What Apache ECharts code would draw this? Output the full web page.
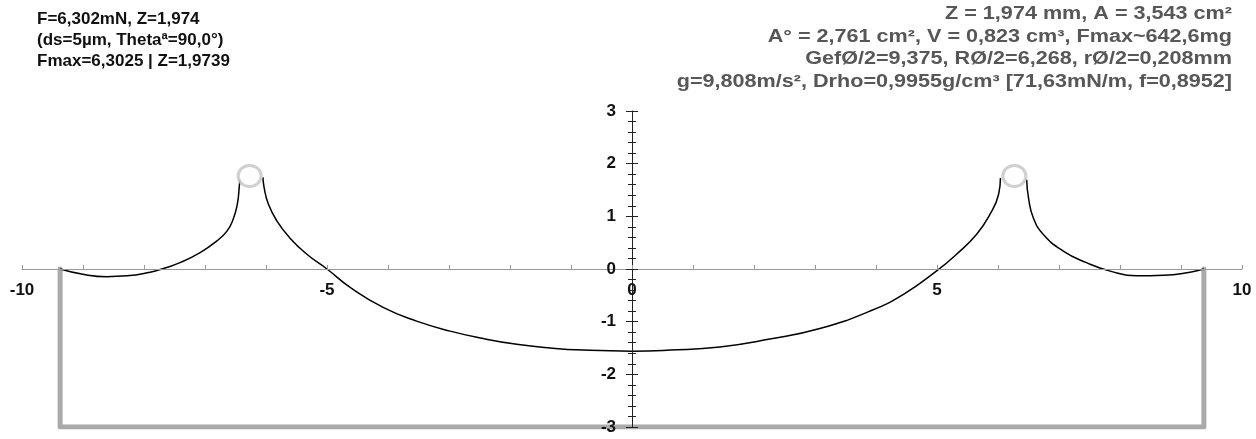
<!DOCTYPE html>
<html lang="de">

<head>
  <meta charset="UTF-8">
  <title>Meniskus</title>
  <style>
    html, body { margin: 0; padding: 0; background: #fff; }
  </style>
</head>

<body>
  <div id="main" style="width: 1256px;height:439px;"></div>

  <script src="https://cdn.jsdelivr.net/npm/echarts@6/dist/echarts.min.js"></script>

  <script type="text/javascript">
    // Meniskus-Profil, links aussen / innen / rechts aussen (x in mm, y in mm)
    const outerLeft = [[-9.375, 0], [-9.0, -0.10], [-8.61, -0.145], [-8.28, -0.13], [-7.9, -0.06], [-7.68, 0.01],
      [-7.41, 0.12], [-7.08, 0.31], [-6.81, 0.53], [-6.64, 0.72], [-6.54, 0.94], [-6.47, 1.23], [-6.44, 1.54], [-6.43, 1.70]];
    const inner = [[-6.05, 1.74], [-6.03, 1.54], [-5.96, 1.23], [-5.82, 0.91], [-5.61, 0.59], [-5.33, 0.28], [-5.0, 0.0],
      [-4.62, -0.35], [-4.08, -0.73], [-3.53, -0.99], [-2.98, -1.18], [-2.44, -1.32], [-1.89, -1.43], [-1.34, -1.50],
      [-0.8, -1.54], [0, -1.56], [0.62, -1.54], [1.44, -1.48], [2.26, -1.33], [3.08, -1.13], [3.9, -0.80], [4.45, -0.48],
      [5.0, -0.03], [5.32, 0.28], [5.65, 0.66], [5.87, 1.04], [6.01, 1.42], [6.04, 1.73]];
    const outerRight = [[6.47, 1.70], [6.50, 1.35], [6.58, 0.97], [6.74, 0.66], [7.07, 0.34], [7.45, 0.12], [7.84, -0.04],
      [8.27, -0.13], [8.71, -0.12], [9.15, -0.06], [9.375, 0]];
    // Ring-Querschnitt (Mitte)
    const ringPoints = [[-6.268, 1.766], [6.268, 1.766]];
    // Gefaess
    const vessel = [[-9.375, 0], [-9.375, -3], [9.375, -3], [9.375, 0]];

    const infoLeft = ['F=6,302mN, Z=1,974', '(ds=5µm, Thetaª=90,0°)', 'Fmax=6,3025 | Z=1,9739'];
    const infoRight = ['Z = 1,974 mm, A = 3,543 cm²', 'A° = 2,761 cm², V = 0,823 cm³, Fmax~642,6mg',
      'GefØ/2=9,375, RØ/2=6,268, rØ/2=0,208mm', 'g=9,808m/s², Drho=0,9955g/cm³ [71,63mN/m, f=0,8952]'];

    var myChart = echarts.init(document.getElementById('main'));

    // Plotflaeche in Pixel, damit die Achsen durch den Nullpunkt laufen
    const gridL = 22, gridR = 14, gridT = 111, gridB = 12;
    const plotW = 1256 - gridL - gridR;
    const plotH = 439 - gridT - gridB;

    const labelFont = {
      color: '#111',
      fontSize: 17,
      fontWeight: 'bold',
      fontFamily: 'Liberation Sans, Arial, sans-serif'
    };

    function curve(data) {
      return {
        type: 'line',
        data: data,
        smooth: true,
        symbol: 'none',
        lineStyle: { color: '#000', width: 1.5 },
        z: 3
      };
    }

    var option = {
      animation: false,
      backgroundColor: '#fff',
      grid: { left: gridL, right: gridR, top: gridT, bottom: gridB, outerBoundsMode: 'none', containLabel: false },
      graphic: [{
          type: 'text',
          x: 37,
          y: 9,
          style: {
            text: infoLeft.join('\n'),
            font: 'bold 17px Liberation Sans, Arial, sans-serif',
            fill: '#111',
            lineHeight: 21
          }
        },
        {
          type: 'text',
          x: 1232,
          y: 3,
          scaleX: 1.2,
          style: {
            text: infoRight.join('\n'),
            font: 'bold 18px Liberation Sans, Arial, sans-serif',
            fill: '#575757',
            align: 'right',
            lineHeight: 22.5
          }
        }
      ],
      xAxis: [{
        type: 'value',
        min: -10,
        max: 10,
        interval: 5,
        position: 'bottom',
        offset: -plotH / 2,
        z: 10,
        axisLine: { onZero: false, lineStyle: { color: '#999', width: 1 } },
        axisTick: { show: true, inside: true, length: 4, lineStyle: { color: '#999' } },
        minorTick: { show: true, splitNumber: 5, length: 4, lineStyle: { color: '#999' } },
        splitLine: { show: false },
        axisLabel: Object.assign({ margin: 13 }, labelFont)
      }],
      yAxis: [{
          type: 'value',
          min: -3,
          max: 3,
          interval: 1,
          position: 'left',
          offset: -plotW / 2,
          z: 10,
          axisLine: { onZero: false, lineStyle: { color: '#222', width: 1 } },
          axisTick: { show: true, length: 6, lineStyle: { color: '#222' } },
          minorTick: { show: true, splitNumber: 5, length: 4, lineStyle: { color: '#222' } },
          splitLine: { show: false },
          axisLabel: Object.assign({ margin: 16 }, labelFont)
        },
        {
          type: 'value',
          min: -3,
          max: 3,
          interval: 1,
          position: 'right',
          offset: -plotW / 2,
          z: 10,
          axisLine: { show: false, onZero: false },
          axisTick: { show: true, length: 6, lineStyle: { color: '#222' } },
          minorTick: { show: true, splitNumber: 5, length: 4, lineStyle: { color: '#222' } },
          splitLine: { show: false },
          axisLabel: { show: false }
        }
      ],
      series: [{
          name: 'Gefaess',
          type: 'line',
          data: vessel,
          symbol: 'none',
          lineStyle: { color: '#aaa', width: 5, cap: 'round', join: 'round' },
          z: 1
        },
        curve(outerLeft),
        curve(inner),
        curve(outerRight),
        {
          name: 'Ring',
          type: 'scatter',
          data: ringPoints,
          symbol: 'circle',
          symbolSize: [23, 21],
          itemStyle: { color: '#fff', borderColor: '#c4c4c4', borderWidth: 3 },
          silent: true,
          z: 4
        }
      ]
    };

    myChart.setOption(option);
  </script>
</body>

</html>
